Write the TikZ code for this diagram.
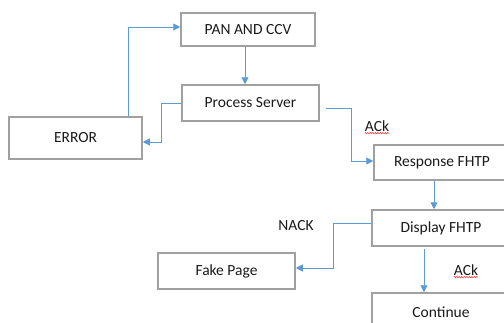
\documentclass[tikz,border=0pt]{standalone}
\usepackage{fontspec}
\setmainfont{Carlito}
\usetikzlibrary{arrows.meta,calc,decorations.pathmorphing}
\definecolor{boxgray}{HTML}{A0A0A0}
\definecolor{arrblue}{HTML}{5B9BD5}
\definecolor{txt}{HTML}{1A1A1A}
\begin{document}
\begin{tikzpicture}[x=1pt,y=-1pt,
  box/.style={draw=boxgray,line width=1.5pt,rectangle,inner sep=0pt,text=txt,font=\fontsize{15.5}{17}\selectfont},
  arr/.style={draw=arrblue,line width=0.9pt,-{Triangle[length=7pt,width=7pt]}},
  lbl/.style={text=txt,font=\fontsize{15.5}{17}\selectfont,inner sep=0pt},
  squig/.style={draw=red!80,line width=0.5pt,decorate,decoration={zigzag,amplitude=0.7pt,segment length=2.5pt}}]
\useasboundingbox (0,0) rectangle (504,322);
\clip (0,0) rectangle (504,322);
\node[box,minimum width=134pt,minimum height=33pt] (pan) at (248,29.5) {PAN AND CCV};
\node[box,minimum width=137pt,minimum height=36pt] (proc) at (250.5,103) {Process Server};
\node[box,minimum width=133pt,minimum height=42pt] (err) at (75.5,138) {ERROR};
\node[box,minimum width=136pt,minimum height=35pt] (resp) at (442,162.5) {Response FHTP};
\node[box,minimum width=138pt,minimum height=36pt] (disp) at (441,228) {Display FHTP};
\node[box,minimum width=137pt,minimum height=36pt] (fake) at (226.5,271) {Fake Page};
\node[box,minimum width=138pt,minimum height=38pt] (cont) at (441,312) {Continue};
\node[lbl] (ack1) at (377,126) {ACk};
\node[lbl] (nack) at (296,226) {NACK};
\node[lbl] (ack2) at (466,270) {ACk};
\draw[squig] ([yshift=-1.5pt]ack1.south west) -- ([yshift=-1.5pt]ack1.south east);
\draw[squig] ([yshift=-1.5pt]ack2.south west) -- ([yshift=-1.5pt]ack2.south east);
% connectors
\draw[arr] ([xshift=52.5pt]err.north) |- ([yshift=2.5pt]pan.west);
\draw[arr] ([xshift=-3pt]pan.south) -- ([xshift=-3pt]pan.south |- proc.north);
\draw[arr] (proc.west) -- ++(-20,0) |- ([yshift=-4pt]err.east);
\draw[arr] ([shift={(6pt,-5pt)}]proc.east) -- ++(26,0) |- ([yshift=1.5pt]resp.west);
\draw[arr] ([xshift=-8pt]resp.south) -- ([xshift=-8pt]resp.south |- disp.north);
\draw[arr] ([yshift=5pt]disp.west) -- ++(-38,0) |- ([yshift=3pt]fake.east);
\draw[arr] ([shift={(-17pt,-2pt)}]disp.south) -- ([xshift=-17pt]disp.south |- cont.north);
\end{tikzpicture}
\end{document}
